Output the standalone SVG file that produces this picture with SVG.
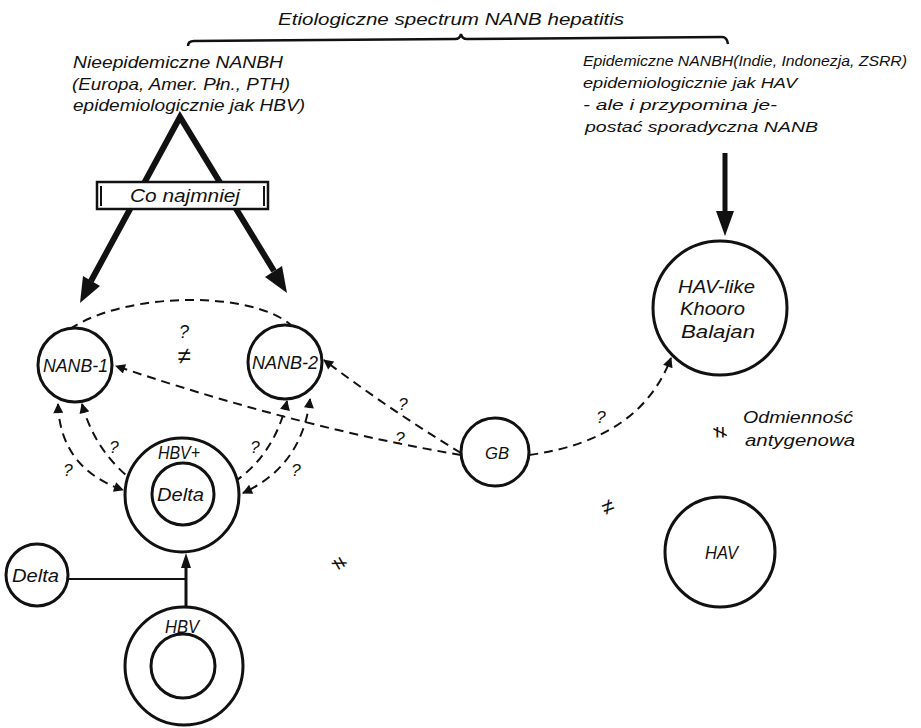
<svg xmlns="http://www.w3.org/2000/svg" width="921" height="728" viewBox="0 0 921 728">
<style>
text{font-family:"Liberation Sans","DejaVu Sans",sans-serif;font-style:italic;fill:#111}
.c{fill:#fff;stroke:#111;stroke-width:3}
.d{fill:none;stroke:#111;stroke-width:2;stroke-dasharray:9,6}
.m{text-anchor:middle}
</style>
<defs>
<marker id="ah" viewBox="0 0 10 10" refX="9" refY="5" markerWidth="12" markerHeight="10" markerUnits="userSpaceOnUse" orient="auto-start-reverse">
<path d="M0,0 L10,5 L0,10 z" fill="#111"/>
</marker>
</defs>
<rect width="921" height="728" fill="#fff"/>

<g id="title">
<text x="278" y="25" font-size="17" textLength="346" lengthAdjust="spacingAndGlyphs">Etiologiczne spectrum NANB hepatitis</text>
<path d="M188,46 Q188,41 194,41 L455,39 Q460,39 461,34 Q462,39 467,39 L722,37 Q727,37 728,44" fill="none" stroke="#111" stroke-width="2.5"/>
</g>

<g id="left-text">
<text x="73" y="68" textLength="210" lengthAdjust="spacingAndGlyphs" font-size="17">Nieepidemiczne NANBH</text>
<text x="72" y="90" textLength="218" lengthAdjust="spacingAndGlyphs" font-size="17">(Europa, Amer. Płn., PTH)</text>
<text x="73" y="111" textLength="232" lengthAdjust="spacingAndGlyphs" font-size="17">epidemiologicznie jak HBV)</text>
</g>

<g id="right-text">
<text x="583" y="66" font-size="15" textLength="324" lengthAdjust="spacingAndGlyphs">Epidemiczne NANBH(Indie, Indonezja, ZSRR)</text>
<text x="583" y="88" font-size="15" textLength="214" lengthAdjust="spacingAndGlyphs">epidemiologicznie jak HAV</text>
<text x="583" y="110" font-size="15" textLength="194" lengthAdjust="spacingAndGlyphs">- ale i przypomina je-</text>
<text x="585" y="132" font-size="15" textLength="233" lengthAdjust="spacingAndGlyphs">postać sporadyczna NANB</text>
</g>

<g id="triangle-arrows">
<path d="M91,281 L180,117 L274,271" fill="none" stroke="#111" stroke-width="6" stroke-linejoin="miter"/>
<polygon points="80,303 100,286 83,276" fill="#111"/>
<polygon points="287,293 282,266 265,277" fill="#111"/>
<line x1="725" y1="153" x2="725" y2="214" stroke="#111" stroke-width="5"/>
<polygon points="725,236 716,211 734,211" fill="#111"/>
</g>

<g id="co-najmniej">
<rect x="97" y="182" width="171" height="27" fill="#fff" stroke="#111" stroke-width="2.5"/>
<line x1="101" y1="186" x2="101" y2="206" stroke="#111" stroke-width="2"/>
<line x1="264" y1="186" x2="264" y2="206" stroke="#111" stroke-width="2"/>
<text x="130" y="202" font-size="18" textLength="110" lengthAdjust="spacingAndGlyphs">Co najmniej</text>
</g>

<g id="connectors">
<path class="d" d="M70,329 C125,292 250,290 291,325"/>
<path class="d" d="M461,455 Q300,428 116,366" marker-end="url(#ah)"/>
<path class="d" d="M461,453 Q390,410 324,360" marker-end="url(#ah)"/>
<path class="d" d="M529,455 Q640,440 671,358" marker-end="url(#ah)"/>
<path class="d" d="M58,404 Q60,468 123,490" marker-start="url(#ah)" marker-end="url(#ah)"/>
<path class="d" d="M82,404 Q98,462 151,493" marker-start="url(#ah)" marker-end="url(#ah)"/>
<path class="d" d="M287,401 Q272,466 215,493" marker-start="url(#ah)" marker-end="url(#ah)"/>
<path class="d" d="M310,399 Q302,466 243,493" marker-start="url(#ah)" marker-end="url(#ah)"/>
<line x1="68" y1="579" x2="186" y2="579" stroke="#111" stroke-width="2"/>
<line x1="186" y1="607" x2="186" y2="566" stroke="#111" stroke-width="3"/>
<polygon points="186,553 181,568 191,568" fill="#111"/>
</g>

<g id="labels" font-size="17">
<text x="184" y="338" class="m" font-size="18">?</text>
<text x="184" y="364" class="m" font-size="24">≠</text>
<text x="403" y="410" class="m">?</text>
<text x="400" y="444" class="m">?</text>
<text x="114" y="453" class="m">?</text>
<text x="68" y="476" class="m">?</text>
<text x="255" y="453" class="m">?</text>
<text x="296" y="476" class="m">?</text>
<text x="601" y="423" class="m">?</text>
<text x="720" y="439" class="m" font-size="22" transform="rotate(90 720 432)">≠</text>
<text x="608" y="514" class="m" font-size="22" transform="rotate(-20 608 507)">≠</text>
<text x="340" y="571" class="m" font-size="22" transform="rotate(60 340 563)">≠</text>
<text x="743" y="423" font-size="16" textLength="110" lengthAdjust="spacingAndGlyphs">Odmienność</text>
<text x="745" y="446" font-size="16" textLength="110" lengthAdjust="spacingAndGlyphs">antygenowa</text>
</g>

<g id="nanb1">
<circle class="c" cx="75" cy="365" r="37"/>
<text x="43" y="372" font-size="18" textLength="65" lengthAdjust="spacingAndGlyphs">NANB-1</text>
</g>
<g id="nanb2">
<circle class="c" cx="285" cy="362" r="37"/>
<text x="252" y="369" font-size="18" textLength="66" lengthAdjust="spacingAndGlyphs">NANB-2</text>
</g>
<g id="hbv-plus-delta">
<circle class="c" cx="182" cy="495" r="57"/>
<text x="158" y="459" font-size="18" textLength="42" lengthAdjust="spacingAndGlyphs">HBV+</text>
<circle class="c" cx="183" cy="494" r="31"/>
<text x="157" y="501" font-size="18" textLength="47" lengthAdjust="spacingAndGlyphs">Delta</text>
</g>
<g id="delta">
<circle class="c" cx="37" cy="575" r="31"/>
<text x="12" y="582" font-size="18" textLength="47" lengthAdjust="spacingAndGlyphs">Delta</text>
</g>
<g id="hbv">
<circle class="c" cx="184" cy="666" r="59"/>
<circle class="c" cx="183" cy="666" r="32"/>
<text x="165" y="633" font-size="19" textLength="34" lengthAdjust="spacingAndGlyphs">HBV</text>
</g>
<g id="gb">
<circle class="c" cx="495" cy="452" r="34"/>
<text x="485" y="459" font-size="17" textLength="24" lengthAdjust="spacingAndGlyphs">GB</text>
</g>
<g id="hav-like">
<circle class="c" cx="720" cy="308" r="67"/>
<text x="678" y="293" font-size="18" textLength="77" lengthAdjust="spacingAndGlyphs">HAV-like</text>
<text x="680" y="315" font-size="18" textLength="65" lengthAdjust="spacingAndGlyphs">Khooro</text>
<text x="681" y="338" font-size="18" textLength="74" lengthAdjust="spacingAndGlyphs">Balajan</text>
</g>
<g id="hav">
<circle class="c" cx="720" cy="552" r="55"/>
<text x="705" y="559" font-size="18" textLength="33" lengthAdjust="spacingAndGlyphs">HAV</text>
</g>
</svg>
